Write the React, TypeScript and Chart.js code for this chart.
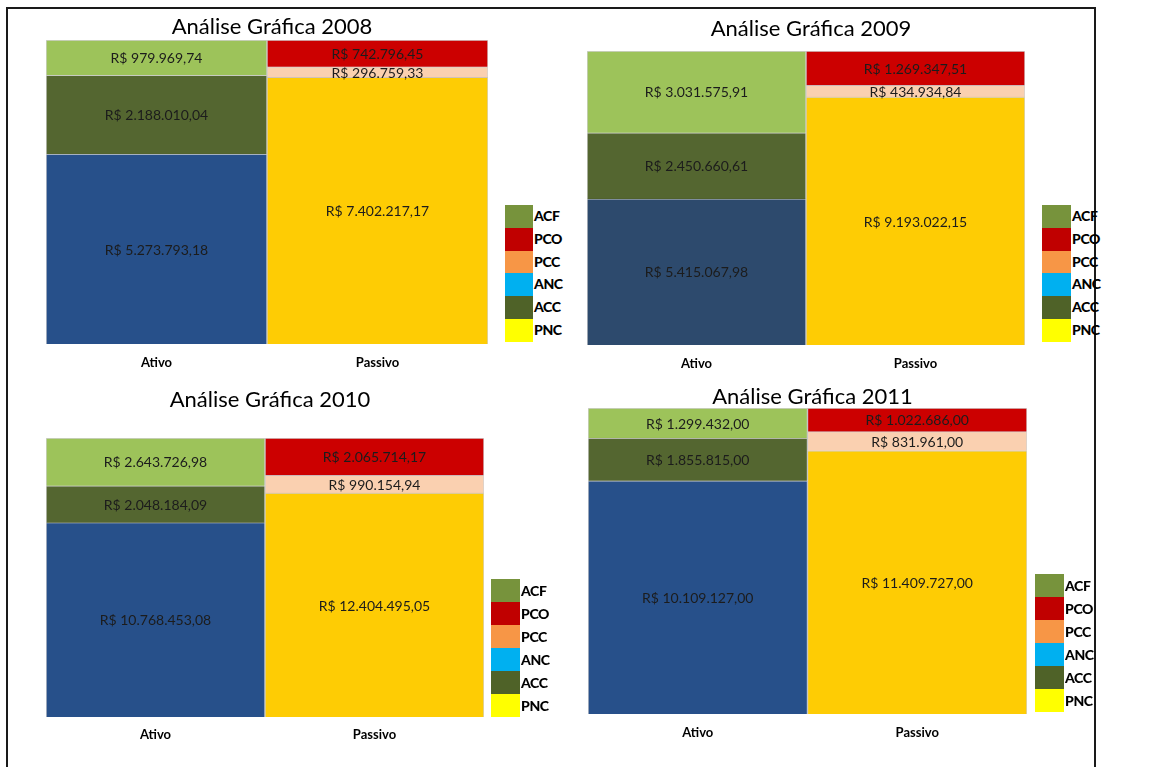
import React, { useEffect, useRef } from "react";
import { Chart, registerables } from "chart.js";
Chart.register(...registerables);

const categories = ["Ativo", "Passivo"];
const years = ["2008", "2009", "2010", "2011"];
// Ativo segments
const acf = [979969.74, 3031575.91, 2643726.98, 1299432.0];
const acc = [2188010.04, 2450660.61, 2048184.09, 1855815.0];
const anc = [5273793.18, 5415067.98, 10768453.08, 10109127.0];
// Passivo segments
const pco = [742796.45, 1269347.51, 2065714.17, 1022686.0];
const pcc = [296759.33, 434934.84, 990154.94, 831961.0];
const pnc = [7402217.17, 9193022.15, 12404495.05, 11409727.0];
const legendLabels = ["ACF", "PCO", "PCC", "ANC", "ACC", "PNC"];

const legendColors = ["#77933C", "#C00000", "#F79646", "#00B0F0", "#4F6228", "#FFFF00"];
const barColors = [
  { ACF: "#9DC35A", ACC: "#546630", ANC: "#27508A", PCO: "#CC0000", PCC: "#FAD0B0", PNC: "#FECC04" },
  { ACF: "#9DC35A", ACC: "#546630", ANC: "#2D4A6D", PCO: "#CC0000", PCC: "#FAD0B0", PNC: "#FECC04" },
  { ACF: "#9DC35A", ACC: "#546630", ANC: "#27508A", PCO: "#CC0000", PCC: "#FAD0B0", PNC: "#FECC04" },
  { ACF: "#9DC35A", ACC: "#546630", ANC: "#27508A", PCO: "#CC0000", PCC: "#FAD0B0", PNC: "#FECC04" },
];

// layout: plot rect [left, top, right, bottom], title center y, label center y, legend [x, y, w, rowH]
const layouts = [
  { plot: [46, 40, 488, 344], titleY: 27, labelY: 363, legend: [505, 205, 28, 22.8] },
  { plot: [587, 51, 1025, 345], titleY: 29, labelY: 364, legend: [1042, 205, 29, 22.8] },
  { plot: [46, 438, 484, 717], titleY: 400, labelY: 735, legend: [491, 579, 29, 23] },
  { plot: [588, 407, 1027, 714], titleY: 397, labelY: 733, legend: [1035, 574, 29, 23] },
];

const FONT = "Lato, 'Open Sans', sans-serif";
const TITLE_SIZE = 22;

function fmtBRL(v: number): string {
  const [intPart, dec] = v.toFixed(2).split(".");
  const grouped = intPart.replace(/\B(?=(\d{3})+(?!\d))/g, ".");
  return "R$ " + grouped + "," + dec;
}

const valueLabels = {
  id: "valueLabels",
  afterDatasetsDraw(chart: any) {
    const ctx = chart.ctx;
    ctx.save();
    ctx.font = `14px ${FONT}`;
    ctx.fillStyle = "#1c1c1c";
    ctx.textAlign = "center";
    ctx.textBaseline = "middle";
    chart.data.datasets.forEach((ds: any, i: number) => {
      const meta = chart.getDatasetMeta(i);
      meta.data.forEach((el: any, j: number) => {
        const v = ds.data[j];
        if (v == null) return;
        const p = el.getProps(["x", "y", "base"], true);
        ctx.fillText(fmtBRL(v), p.x, (p.y + p.base) / 2 + 1);
      });
    });
    ctx.restore();
  },
};

function BalanceChart({ idx }: { idx: number }) {
  const ref = useRef<HTMLCanvasElement | null>(null);
  const L = layouts[idx];
  const [pl, pt, pr, pb] = L.plot;
  const labelLH = 13 * 1.2;
  const top = Math.round(L.titleY - TITLE_SIZE / 2);
  const tickPad = L.labelY - labelLH / 2 - pb;
  const bottom = Math.round(L.labelY + labelLH / 2 + tickPad);
  const titlePadBottom = Math.max(0, pt - (top + TITLE_SIZE));
  const width = pr - pl + 10;
  const height = bottom - top;

  useEffect(() => {
    if (!ref.current) return;
    const c = barColors[idx];
    const mk = (label: string, v: number, side: number, color: string) => ({
      label,
      data: side === 0 ? [v, null] : [null, v],
      backgroundColor: color,
      borderColor: "rgba(0,0,0,0.18)",
      borderWidth: 1,
      barPercentage: 1,
      categoryPercentage: 1,
    });
    const totalA = anc[idx] + acc[idx] + acf[idx];
    const totalP = pnc[idx] + pcc[idx] + pco[idx];
    const chart = new Chart(ref.current, {
      type: "bar",
      data: {
        labels: categories,
        datasets: [
          mk("ANC", anc[idx], 0, c.ANC),
          mk("PNC", pnc[idx], 1, c.PNC),
          mk("ACC", acc[idx], 0, c.ACC),
          mk("PCC", pcc[idx], 1, c.PCC),
          mk("ACF", acf[idx], 0, c.ACF),
          mk("PCO", pco[idx], 1, c.PCO),
        ] as any,
      },
      options: {
        animation: false,
        responsive: true,
        maintainAspectRatio: false,
        layout: { padding: 0 },
        plugins: {
          legend: { display: false },
          tooltip: { enabled: false },
          title: {
            display: true,
            text: "Análise Gráfica " + years[idx],
            color: "#000",
            font: { family: FONT, size: TITLE_SIZE, weight: "normal", lineHeight: 1 },
            padding: { top: 0, bottom: titlePadBottom },
          },
        },
        scales: {
          x: {
            stacked: true,
            grid: { display: false, drawTicks: false },
            border: { display: false },
            ticks: { padding: tickPad, color: "#000", font: { family: FONT, size: 13, weight: "bold" } },
          },
          y: {
            stacked: true,
            position: "right",
            min: 0,
            max: Math.max(totalA, totalP),
            grid: { display: false },
            border: { display: false },
            ticks: { display: false },
            afterFit: (s: any) => {
              s.width = 10;
            },
          },
        },
      } as any,
      plugins: [valueLabels],
    });
    return () => chart.destroy();
  }, [idx]);

  const [lx, ly, lw, lh] = L.legend;
  return (
    <>
      <div style={{ position: "absolute", left: pl, top, width, height }}>
        <canvas ref={ref} />
      </div>
      <div style={{ position: "absolute", left: lx, top: ly }}>
        {legendLabels.map((lab, k) => (
          <div key={lab} style={{ display: "flex", alignItems: "center", height: lh }}>
            <div style={{ width: lw, height: lh, background: legendColors[k] }} />
            <span
              style={{
                fontFamily: FONT,
                fontWeight: 900,
                fontSize: 14,
                color: "#000",
                marginLeft: 1,
                letterSpacing: -0.4,
                lineHeight: `${lh}px`,
              }}
            >
              {lab}
            </span>
          </div>
        ))}
      </div>
    </>
  );
}

export default function App() {
  return (
    <div>
      <div
        style={{
          position: "absolute",
          left: 6,
          top: 7,
          width: 1090,
          height: 760,
          borderTop: "2px solid #1a1a1a",
          borderLeft: "2px solid #1a1a1a",
          borderRight: "2px solid #1a1a1a",
          boxSizing: "border-box",
        }}
      />
      {years.map((_, i) => (
        <BalanceChart key={i} idx={i} />
      ))}
    </div>
  );
}
